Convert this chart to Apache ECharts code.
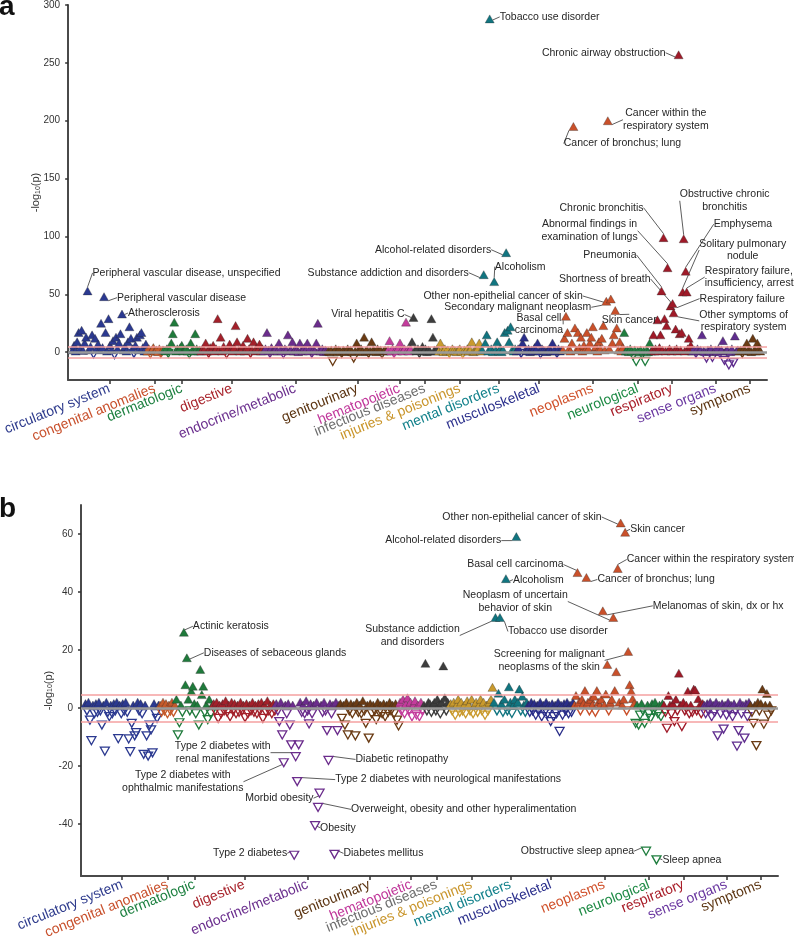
<!DOCTYPE html>
<html>
<head>
<meta charset="utf-8">
<script src="https://cdn.jsdelivr.net/npm/echarts@6/dist/echarts.min.js"></script>
<style>html,body{margin:0;padding:0;background:#fff}#chart{width:794px;height:941px}</style>
</head>
<body>
<div id="chart"></div>
<script>
// ---------- categories ----------
const categories = ['circulatory system','congenital anomalies','dermatologic','digestive','endocrine/metabolic','genitourinary','hematopoietic','infectious diseases','injuries & poisonings','mental disorders','musculoskeletal','neoplasms','neurological','respiratory','sense organs','symptoms'];
const phecodesPerCategory = [50, 11, 25, 42, 43, 40, 16, 18, 29, 23, 31, 41, 19, 27, 31, 15];
const yTicksA = [0, 50, 100, 150, 200, 250, 300];
const yTicksB = [-40, -20, 0, 20, 40, 60];
const threshold = 4.6;

// ---------- panel a : -log10(p) (signed: negative = inverse association) ----------
const a_circulatory = [2, 6, 1, 9, 17, 3, 19, 1.5, 8, 13, 53, 2, 5, 15, -1.5, 12, 3, 7, 2, 25, 4, 48, 17, 1, 29, 6, 2, 10, -2, 13, 3, 8, 16, 33, 2, 5, 1, 9, 22, 12, 3, -1, 6, 13, 2, 15, 17, 4, 1, 7];
const a_congenital = [1, 3, -1.5, 2, 4, 1, 2, 0.5, 3, -1, 2];
const a_dermatologic = [2, 1, 3, -1, 2, 8, 16, 26, 1, 3, 2, 4, 6, 1, 2, 3, 1, -1.5, 8, 2, 1, 16, 3, 1, 2];
const a_digestive = [1, 3, 2, 8, 1, -1, 4, 2, 6, 1, 3, 29, 2, 13, 1, 5, 2, -1.5, 3, 7, 2, 1, 4, 23, 9, 2, 1, 3, 6, 1, 2, 12, 3, -1, 2, 9, 1, 4, 2, 7, 1, 3];
const a_endocrine = [1, 3, 17, 2, -1, 4, 1, 2, 3, 1, 8, 2, 1, -1.5, 3, 2, 15, 1, 2, 9, 1, 3, 2, 0.5, 8, 2, 1, 4, 2, 8, 1, 3, -1, 2, 1, 8, 25, 2, 1, 3, 0.5, 2, 1];
const a_genitourinary = [1, 0.5, 2, -8, 1, 3, 0.5, 2, 1, -1, 2, 1, 0.5, 3, 1, 2, 0.5, -5, 1, 8, 2, 1, 3, 0.5, 13, 1, 2, -1, 1, 9, 2, 1, 0.5, 3, 1, 2, -1.5, 1, 2, 1];
const a_hematopoietic = [2, 10, 1, 3, -1, 2, 1, 4, 8, 2, 1, 3, 26, 2, 1, 3];
const a_infectious = [9, 30, 2, 1, 3, -1, 2, 5, 1, 3, 0.5, 2, 1, 29, 13, 2, 1, 3];
const a_injuries = [1, 8, 2, 0.5, 3, 1, 2, -1, 1, 3, 2, 1, 0.5, 2, 3, 1, -1.5, 2, 1, 3, 1, 2, 9, 0.5, 1, 2, 3, 8, 1];
const a_mental = [2, 67, 8, 15, 1, 288, 3, 0.5, 61, 2, 9, 1, 3, 0.5, 2, 17, 86, 19, 9, 22, 2, 1, 3];
const a_musculoskeletal = [1, 3, 2, -1, 8, 13, 2, 1, 3, 0.5, 2, 1, 4, 2, 8, 1, -1.5, 3, 2, 1, 0.5, 2, 3, 1, 8, 2, 1, -1, 3, 1, 2];
const a_neoplasms = [2, 12, 31, 17, 3, 1, 8, 195, 21, 2, 17, 4, 13, 1, 6, 2, 17, 3, 8, 13, 22, 2, 5, 1, 9, 3, 12, 23, 2, 44, 200, 3, 46, 8, 15, 36, 21, 2, 9, 1, 4];
const a_neurological = [17, 1, 2, 0.5, 3, 1, -3, 2, -8, 1, 0.5, 2, -2, 1, -8, 2, 0.5, 8, 1];
const a_respiratory = [2, 15, 1, 3, 2, 28, 1, 4, 15, 53, 2, 99, 29, 1, 23, 73, 2, 3, 40, 1, 42, 34, 2, 20, 3, 1, 257, 16, 2, 17, 52, 98, 1, 70, 52, 3, 12, 2, 6, 1];
const a_sense = [1, 2, -1, 3, 1, 2, 15, 1, 0.5, -5, 2, 1, 3, -4.5, 0.5, 2, 1, 3, -1, 2, 10, -7, 1, 2, -11, 0.5, 3, -9, 14, 1, 2];
const a_symptoms = [1, 2, -1, 3, 1, 8, 2, 1, 0.5, 12, 2, 1, 8, 3, 1];

// ---------- panel b ----------
const b_circulatory = [1.5, -1, 2, -4.2, -11.3, 1, -2, 1.5, -1.5, 2, -1, -5.9, 1, -14.9, 2, -1.5, -3, 1, -2, 1.5, -1, 2, -10.6, 1, -2, 1.5, -1, 2, -1.5, -10.7, -15.1, -5.3, 1, -9.6, -8.5, 2, -1, 1.5, -2, -16, 1, -9.6, -16.6, -5.9, -7.6, -15.5, 1.5, -2, -3.6, 1];
const b_congenital = [1, -1.5, 2, -1, 1.5, -2, 1, -1, 2, -1.5, 1];
const b_dermatologic = [3, -9.3, -5.1, 1, -1.5, 26.1, 8, 17.3, 3, -1, 5.8, 7.5, 1.5, -2, 1, -5.9, 13.3, 4.6, 7.5, -1.5, 1, -4, 3, -2, 1];
const b_digestive = [1.5, -1, 2, -3.6, 1, -2, 1.5, -1, 2.5, -1.5, 1, -3, 2, -1, 1.5, -2, 1, -1.5, 2, -1, 1, -3.3, 1.5, -2, 1, -1, 2, -1.5, 1, -2, 1.5, -1, 2, -3.6, 1, -1.5, 2.5, -1, 1, -2, 1.5, -1];
const b_endocrine = [1.5, -1, -4.7, 2, -9.3, -18.9, 1, -2, 1.5, -5.9, -12.7, 1, -50.8, -16.8, -25.4, -12.7, 2, -1.5, 1, -2, 2.5, -1, -5.5, 1.5, -2, 1, -40.6, 2, -34.3, -29.4, 1, -1.5, 2, -1, -7.8, -18.1, 1.5, -2, 1, -50.5, 2, -7.8, 1];
const b_genitourinary = [1.5, -3.6, 1, -5.9, 2, -9.3, -1, 1.5, -2, 1, -9.6, 2, -1.5, 1, -2, 2.5, -1, -5.3, 1, -10.4, 1.5, -2, 1, -1, -4, 2, -1.5, 1, -2, 1.5, -3, 1, -1.5, 2, -1, 1, -2, 1.5, -4.2, -6.2];
const b_hematopoietic = [2, -1, 3, -2, 1.5, 3.5, -1, 2, -3, 1, 2.5, -2.4, 1, -3, 2, -1];
const b_infectious = [1, 15.4, -1, 2, 1.5, -1.5, 1, 2, -1, 3, 1, -2, 2, 14.5, 3.5, -1, 2, 1];
const b_injuries = [1.5, -1, 2, -2.5, 1, 3, -1.5, 2, -1, 1, -2, 2.5, 1, -1, 3, -2, 1, 2, -1.5, 1, 3, -1, 2, -2.5, 1, -1, 2, 3, 7.1];
const b_mental = [2, 31.2, -1, 5.1, 31.2, 1.5, -1.5, 3, 44.6, -1, 7.3, 2, -1.9, 1, 3, 59.1, 2, 6.5, -1, 4, 1, -1.5, 2];
const b_musculoskeletal = [1, -1.5, 2, -1, 1.5, -2.5, 1, -1, 2, -3, 1, -1.5, 2, -2, 1, -4.7, 1.5, -3, 1, -2, 2, -8.1, 1, -2.5, 1.5, -1, 2, -2, 1, -1.5, 2];
const b_neoplasms = [1, 4.3, 46.7, 2, -1, 3, 1.5, 6, 45, 2, -1, 3, 1, 4, -1.5, 6, 2, 1, 3, 33.5, 1, 4.8, 15, -1, 2, 3, 31.2, 6, 12.5, 48.1, 2, 63.8, 1, 3, 60.6, -1, 19.5, 8, 5.8, 3.2, 1.5];
const b_neurological = [-5.3, 1, -5.9, -2.5, 1.5, -1, -5.3, -49.4, 1, -2, -3.6, 1.5, -1, 2, -52.4, -2, 1, -3, 1.5];
const b_respiratory = [1, -1.5, -7, 4.3, 1, -2, 1.5, -4.7, 3, -1, 12, 1, -6.4, 2, -1, 1, 5.8, -2, 1, -1.5, 6.5, 6.2, -1, 3.2, 1, -2, 1.5];
const b_sense = [1, -2, 1.5, -1, 2, -3, 1, -1.5, 2, -9.6, 1, -2, 1.5, -7.3, 1, -2.5, 2, -1, 1, -3, 1.5, -1, -13.2, -7.8, 2, -2, 1, -10.4, 1.5, -3, 2];
const b_symptoms = [1, -1.5, -5.3, 1, -13, 2, -1, 1.5, 6.5, -5.6, 1, 5, -2.5, 1, -1];

// ---------- annotated phenotypes: [category, position in category array, text] ----------
const annotationsA = [
  ['circulatory system', 10, 'Peripheral vascular disease, unspecified'],
  ['circulatory system', 21, 'Peripheral vascular disease'],
  ['circulatory system', 33, 'Atherosclerosis'],
  ['infectious diseases', 1, 'Viral hepatitis C'],
  ['mental disorders', 1, 'Substance addiction and disorders'],
  ['mental disorders', 5, 'Tobacco use disorder'],
  ['mental disorders', 8, 'Alcoholism'],
  ['mental disorders', 16, 'Alcohol-related disorders'],
  ['neoplasms', 2, 'Basal cell\ncarcinoma'],
  ['neoplasms', 7, 'Cancer of bronchus; lung'],
  ['neoplasms', 29, 'Secondary malignant neoplasm'],
  ['neoplasms', 30, 'Cancer within the\nrespiratory system'],
  ['neoplasms', 32, 'Other non-epithelial cancer of skin'],
  ['neoplasms', 35, 'Skin cancer'],
  ['respiratory', 9, 'Pneumonia'],
  ['respiratory', 11, 'Chronic bronchitis'],
  ['respiratory', 15, 'Abnormal findings in\nexamination of lungs'],
  ['respiratory', 18, 'Shortness of breath'],
  ['respiratory', 20, 'Respiratory failure'],
  ['respiratory', 21, 'Other symptoms of\nrespiratory system'],
  ['respiratory', 26, 'Chronic airway obstruction'],
  ['respiratory', 30, 'Solitary pulmonary\nnodule'],
  ['respiratory', 31, 'Obstructive chronic\nbronchitis'],
  ['respiratory', 33, 'Emphysema'],
  ['respiratory', 34, 'Respiratory failure,\ninsufficiency, arrest']
];
const annotationsB = [
  ['dermatologic', 5, 'Actinic keratosis'],
  ['dermatologic', 7, 'Diseases of sebaceous glands'],
  ['endocrine/metabolic', 5, 'Type 2 diabetes with\nophthalmic manifestations'],
  ['endocrine/metabolic', 12, 'Type 2 diabetes'],
  ['endocrine/metabolic', 13, 'Type 2 diabetes with\nrenal manifestations'],
  ['endocrine/metabolic', 14, 'Type 2 diabetes with neurological manifestations'],
  ['endocrine/metabolic', 26, 'Obesity'],
  ['endocrine/metabolic', 28, 'Overweight, obesity and other hyperalimentation'],
  ['endocrine/metabolic', 29, 'Morbid obesity'],
  ['endocrine/metabolic', 35, 'Diabetic retinopathy'],
  ['endocrine/metabolic', 39, 'Diabetes mellitus'],
  ['mental disorders', 1, 'Substance addiction\nand disorders'],
  ['mental disorders', 4, 'Tobacco use disorder'],
  ['mental disorders', 8, 'Alcoholism'],
  ['mental disorders', 15, 'Alcohol-related disorders'],
  ['neoplasms', 2, 'Basal cell carcinoma'],
  ['neoplasms', 8, 'Cancer of bronchus; lung'],
  ['neoplasms', 19, 'Melanomas of skin, dx or hx'],
  ['neoplasms', 26, 'Neoplasm of uncertain\nbehavior of skin'],
  ['neoplasms', 29, 'Cancer within the respiratory system'],
  ['neoplasms', 31, 'Other non-epithelial cancer of skin'],
  ['neoplasms', 34, 'Skin cancer'],
  ['neoplasms', 36, 'Screening for malignant\nneoplasms of the skin'],
  ['neurological', 7, 'Obstructive sleep apnea'],
  ['neurological', 14, 'Sleep apnea']
];

// ---------- styles ----------
const FONT = '"Liberation Sans", Arial, Helvetica, sans-serif';
const pointColors = ['#2b3990','#c55a2b','#1f7a3b','#a3202a','#6b2c8c','#6a3b14','#c43c9c','#3d3d3d','#c99a2e','#117580','#2a2e89','#c9502a','#1f7d3e','#9f1a28','#5f2d8e','#6a3b14'];
const labelColors = ['#2d3a8c','#c8502c','#1d8040','#a8232b','#6b2f8e','#5b3411','#c0369a','#6d6d6d','#c9952b','#12818b','#2b2f8c','#d0502a','#1d8a44','#a81d28','#6a37a0','#5b3411'];
// label offsets from the point centre: [dx, dy, align]
const offsetsA = {
  'Peripheral vascular disease, unspecified': [5, -18, 'left'],
  'Peripheral vascular disease': [13, 1, 'left'],
  'Atherosclerosis': [6, -1, 'left'],
  'Viral hepatitis C': [-9, -3, 'right'],
  'Substance addiction and disorders': [-15, -2, 'right'],
  'Tobacco use disorder': [10, -2, 'left'],
  'Alcoholism': [26, -15, 'center'],
  'Alcohol-related disorders': [-15, -3, 'right'],
  'Basal cell\ncarcinoma': [-27, 8, 'center'],
  'Cancer of bronchus; lung': [49, 17, 'center'],
  'Secondary malignant neoplasm': [-15, 6, 'right'],
  'Cancer within the\nrespiratory system': [58, -1, 'center'],
  'Other non-epithelial cancer of skin': [-28, -3, 'right'],
  'Skin cancer': [14, 10, 'center'],
  'Pneumonia': [-25, -36, 'right'],
  'Chronic bronchitis': [-20, -30, 'right'],
  'Abnormal findings in\nexamination of lungs': [-78, -37, 'center'],
  'Shortness of breath': [-20, -27, 'right'],
  'Respiratory failure': [27, -5, 'left'],
  'Other symptoms of\nrespiratory system': [70, 8, 'center'],
  'Chronic airway obstruction': [-13, -2, 'right'],
  'Solitary pulmonary\nnodule': [60, -42, 'center'],
  'Obstructive chronic\nbronchitis': [41, -38, 'center'],
  'Emphysema': [28, -47, 'left'],
  'Respiratory failure,\ninsufficiency, arrest': [18, -15, 'left']
};
const offsetsB = {
  'Actinic keratosis': [9, -6, 'left'],
  'Diseases of sebaceous glands': [17, -5, 'left'],
  'Type 2 diabetes with\nophthalmic manifestations': [-101, 19, 'center'],
  'Type 2 diabetes': [-7, -2, 'right'],
  'Type 2 diabetes with\nrenal manifestations': [-73, -4, 'center'],
  'Type 2 diabetes with neurological manifestations': [38, -2, 'left'],
  'Obesity': [5, 2, 'left'],
  'Overweight, obesity and other hyperalimentation': [33, 2, 'left'],
  'Morbid obesity': [-6, 5, 'right'],
  'Diabetic retinopathy': [27, -1, 'left'],
  'Diabetes mellitus': [9, -1, 'left'],
  'Substance addiction\nand disorders': [-83, 18, 'center'],
  'Tobacco use disorder': [8, 14, 'left'],
  'Alcoholism': [7, 1, 'left'],
  'Alcohol-related disorders': [-15, 4, 'right'],
  'Basal cell carcinoma': [-14, -8, 'right'],
  'Cancer of bronchus; lung': [11, 2, 'left'],
  'Melanomas of skin, dx or hx': [50, -5, 'left'],
  'Neoplasm of uncertain\nbehavior of skin': [-98, -16, 'center'],
  'Cancer within the respiratory system': [9, -9, 'left'],
  'Other non-epithelial cancer of skin': [-19, -6, 'right'],
  'Skin cancer': [5, -3, 'left'],
  'Screening for malignant\nneoplasms of the skin': [-79, 9, 'center'],
  'Obstructive sleep apnea': [-12, 0, 'right'],
  'Sleep apnea': [6, 0, 'left']
};

const valuesA = [a_circulatory, a_congenital, a_dermatologic, a_digestive, a_endocrine, a_genitourinary, a_hematopoietic, a_infectious, a_injuries, a_mental, a_musculoskeletal, a_neoplasms, a_neurological, a_respiratory, a_sense, a_symptoms];
const valuesB = [b_circulatory, b_congenital, b_dermatologic, b_digestive, b_endocrine, b_genitourinary, b_hematopoietic, b_infectious, b_injuries, b_mental, b_musculoskeletal, b_neoplasms, b_neurological, b_respiratory, b_sense, b_symptoms];

// category centres on the phecode axis
const centers = [];
(function () { let s = 0; phecodesPerCategory.forEach(n => { centers.push(s + (n - 1) / 2); s += n; }); })();
const totalCodes = phecodesPerCategory.reduce((a, b) => a + b, 0);
const xMin = -3, xMax = totalCodes + 3.5;

function makeLayout(offsets) {
  return function (params) {
    const o = offsets[params.text];
    if (!o) return {};
    const cx = params.rect.x + params.rect.width / 2;
    const cy = params.rect.y + params.rect.height / 2;
    return { x: cx + o[0], y: cy + o[1], align: o[2], verticalAlign: 'middle', hideOverlap: false };
  };
}

function buildSeries(panel, valuesByCat, annotations, offsets) {
  const out = [];
  out.push({
    type: 'scatter', xAxisIndex: panel, yAxisIndex: panel, data: [], symbolSize: 0, z: 1, silent: true,
    markLine: {
      silent: true, symbol: 'none', animation: false, label: { show: false },
      data: [
        { yAxis: 0, lineStyle: { color: '#9a9a9a', width: 2.5, type: 'solid' } },
        { yAxis: threshold, lineStyle: { color: '#f5a0a0', width: 1.5, type: 'solid' } },
        { yAxis: -threshold, lineStyle: { color: '#f5a0a0', width: 1.5, type: 'solid' } }
      ]
    }
  });
  let start = 0;
  categories.forEach((cat, c) => {
    const vals = valuesByCat[c];
    const count = phecodesPerCategory[c];
    const color = pointColors[c];
    const data = vals.map((v, i) => {
      const x = start + (i + 0.5) * count / vals.length - 0.5;
      const item = { value: [x, v] };
      if (v < 0) {
        item.symbolRotate = 180;
        item.itemStyle = { color: 'rgba(255,255,255,0)', borderColor: color, borderWidth: 1.3 };
      }
      const ann = annotations.find(a => a[0] === cat && a[1] === i);
      if (ann) { item.name = ann[2]; item.label = { show: true }; }
      return item;
    });
    out.push({
      type: 'scatter', name: cat, xAxisIndex: panel, yAxisIndex: panel, data,
      symbol: 'triangle', symbolSize: [9, 8], z: 3,
      itemStyle: { color: color, borderColor: 'rgba(40,40,40,0.55)', borderWidth: 0.6, opacity: 1 },
      label: { show: false, formatter: '{b}', fontSize: 10.5, color: '#262626', fontFamily: FONT, lineHeight: 12.5 },
      labelLine: { show: true, lineStyle: { color: '#333', width: 0.8 } },
      labelLayout: makeLayout(offsets),
      emphasis: { disabled: true }
    });
    start += count;
  });
  return out;
}

const rich = {};
categories.forEach((c, i) => { rich['c' + i] = { color: labelColors[i], fontSize: 14, fontFamily: FONT }; });
function xLabel(v) {
  let best = 0;
  centers.forEach((cv, i) => { if (Math.abs(cv - v) < Math.abs(centers[best] - v)) best = i; });
  if (Math.abs(centers[best] - v) > 0.01) return '';
  return '{c' + best + '|' + categories[best] + '}';
}
function makeXAxis(grid) {
  return {
    gridIndex: grid, type: 'value', min: xMin, max: xMax,
    axisLine: { show: true, onZero: false, lineStyle: { color: '#4a4a4a', width: 2 } },
    axisTick: { show: true, customValues: centers, length: 4, lineStyle: { color: '#333', width: 1.5 } },
    axisLabel: { customValues: [xMin].concat(centers, [xMax]), rotate: 22, margin: 8, formatter: xLabel, rich: rich, hideOverlap: false },
    splitLine: { show: false }
  };
}
function makeYAxis(grid, min, max, ticks) {
  return {
    gridIndex: grid, type: 'value', min: min, max: max,
    name: '-log{s|10}(p)', nameLocation: 'middle', nameGap: 27, nameMoveOverlap: false,
    nameTextStyle: { fontSize: 11, color: '#333', fontFamily: FONT, rich: { s: { fontSize: 7, color: '#333', fontFamily: FONT, padding: [4, 0, 0, 0] } } },
    axisLine: { show: true, onZero: false, lineStyle: { color: '#4a4a4a', width: 2 } },
    axisTick: { show: true, customValues: ticks, length: 3, lineStyle: { color: '#333', width: 1.5 } },
    axisLabel: { customValues: ticks, margin: 8, fontSize: 10, color: '#333', fontFamily: FONT },
    splitLine: { show: false }
  };
}

const chart = echarts.init(document.getElementById('chart'), null, { renderer: 'canvas' });
chart.setOption({
  animation: false,
  backgroundColor: '#fff',
  textStyle: { fontFamily: FONT },
  graphic: [
    { type: 'text', x: -1, y: 21, style: { text: 'a', fontSize: 28, fontWeight: 'bold', fill: '#111', fontFamily: FONT, verticalAlign: 'bottom' } },
    { type: 'text', x: -1, y: 523, style: { text: 'b', fontSize: 28, fontWeight: 'bold', fill: '#111', fontFamily: FONT, verticalAlign: 'bottom' } }
  ],
  grid: [
    { left: 68, top: 4, width: 699, height: 376 },
    { left: 81, top: 505, width: 697, height: 377 }
  ],
  xAxis: [makeXAxis(0), makeXAxis(1)],
  yAxis: [makeYAxis(0, -24, 300, yTicksA), makeYAxis(1, -58, 70, yTicksB)],
  series: buildSeries(0, valuesA, annotationsA, offsetsA).concat(buildSeries(1, valuesB, annotationsB, offsetsB))
});
</script>
</body>
</html>
